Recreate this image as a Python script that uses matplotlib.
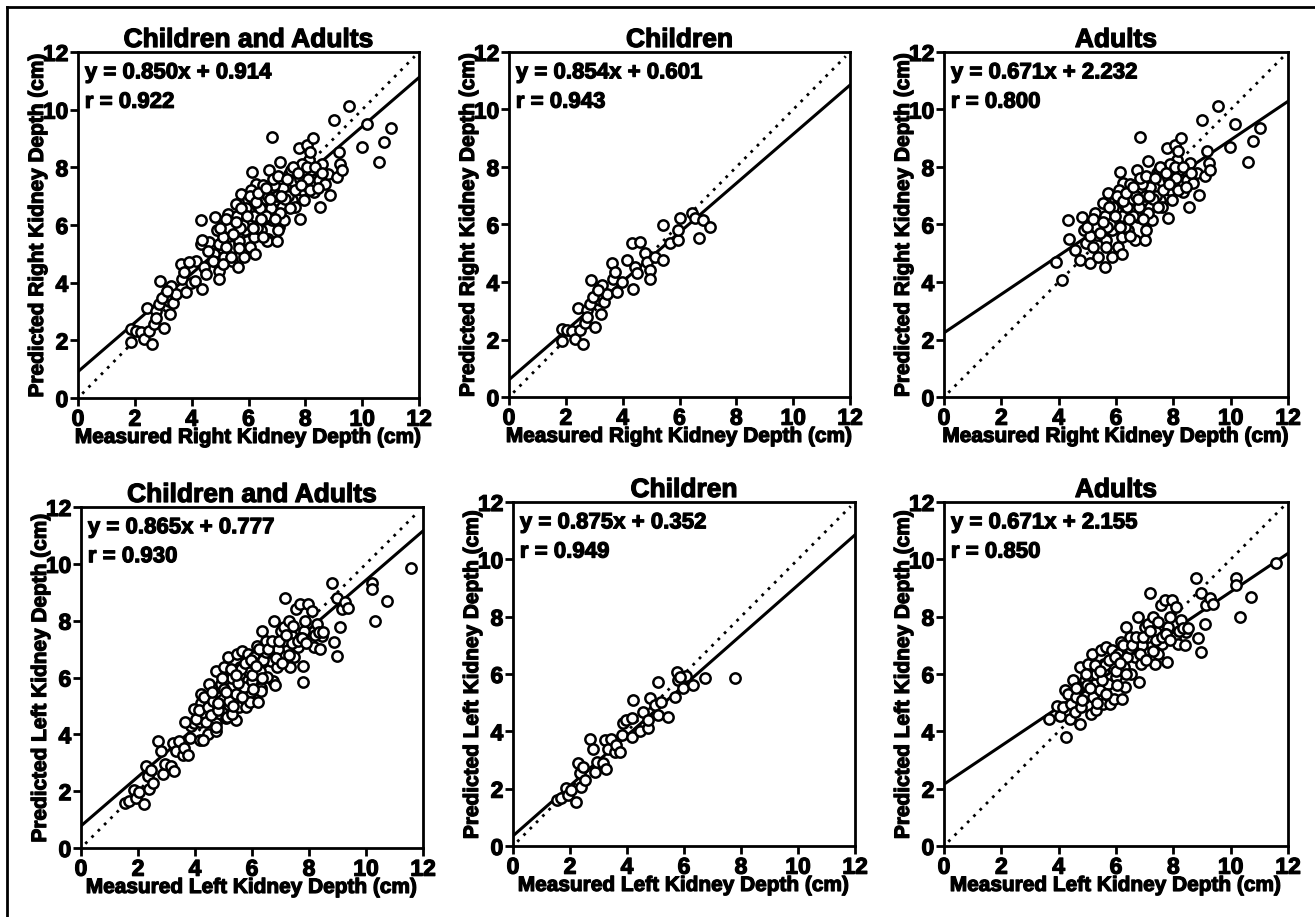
import matplotlib
matplotlib.use('Agg')
import matplotlib.pyplot as plt
import matplotlib.patheffects as pe
from matplotlib.lines import Line2D
import numpy as np

plt.rcParams['font.family'] = ['Liberation Sans', 'DejaVu Sans']
plt.rcParams['font.weight'] = 'bold'

# measured / predicted kidney depth (cm)
child_right_x = [1.85, 1.85, 2.03, 2.2, 2.32, 2.5, 2.42, 2.6, 2.67, 2.73, 2.85, 2.9, 3.03, 3.08, 3.2,
                 3.24, 3.26, 3.34, 3.44, 3.61, 3.67, 3.73, 3.79, 3.96, 4.14, 4.32, 4.38, 4.43, 4.61, 4.49,
                 4.79, 4.85, 4.96, 4.96, 5.14, 5.43, 5.43, 5.67, 5.93, 5.96, 6.02, 6.43, 6.55, 6.7, 6.84,
                 7.07, 2.73, 2.97, 3.14]
child_right_y = [2.38, 1.95, 2.32, 2.3, 2.03, 2.32, 3.11, 1.86, 2.58, 3.02, 3.25, 4.06, 2.44, 3.6, 3.37,
                 2.9, 3.89, 3.31, 3.6, 4.65, 4.12, 4.36, 3.66, 4.0, 4.76, 5.34, 3.77, 4.53, 5.4, 4.3,
                 5.0, 4.7, 4.41, 4.12, 4.88, 5.98, 4.76, 5.34, 5.46, 5.81, 6.21, 6.39, 6.21, 5.52, 6.16,
                 5.92, 2.79, 3.48, 3.72]

adult_right_x = [3.89, 4.12, 4.33, 4.37, 4.57, 4.74, 4.82, 4.89, 4.97, 5.09, 5.15, 5.2, 5.27, 5.32, 5.38,
                 5.5, 5.56, 5.62, 5.66, 5.73, 5.79, 5.85, 5.87, 5.97, 6.0, 6.06, 6.14, 6.18, 6.2, 6.26,
                 6.22, 6.31, 6.37, 6.43, 6.55, 6.66, 6.72, 6.78, 6.84, 6.87, 6.96, 7.02, 7.04, 7.11, 7.13,
                 7.19, 7.25, 7.34, 7.42, 7.48, 7.54, 7.62, 7.69, 7.77, 7.8, 7.83, 7.89, 7.95, 8.0, 8.06,
                 8.12, 8.18, 8.24, 8.27, 8.32, 8.41, 8.47, 8.53, 8.59, 8.7, 8.81, 8.88, 9.0, 9.11, 9.17,
                 9.23, 9.28, 9.55, 9.98, 10.16, 10.6, 10.77, 11.03,
                 5.4, 5.6, 5.8, 6.0, 6.2, 6.4, 6.6, 6.8, 7.0, 7.2, 7.4, 7.6, 7.8, 8.0, 8.2,
                 6.1, 6.5, 5.9, 7.1, 7.5, 7.9, 6.3, 5.7, 5.1, 5.3, 6.7, 7.3, 8.1, 6.9, 6.6,
                 5.0, 5.2, 5.45, 5.55, 5.75, 5.95, 6.05, 6.25, 6.35, 6.45, 6.6, 6.75, 6.85, 6.95, 7.05,
                 7.15, 7.35, 7.45, 7.55, 7.65, 7.75, 7.85, 8.05, 8.15, 8.35, 8.45, 8.6, 5.65, 6.15, 6.5]
adult_right_y = [4.7, 4.07, 6.16, 5.48, 5.11, 4.76, 6.27, 5.81, 5.34, 4.65, 6.1, 5.23, 6.39, 5.63, 4.88,
                 5.92, 6.74, 4.53, 5.46, 7.08, 6.39, 4.88, 5.81, 6.85, 6.16, 5.23, 7.84, 6.74, 5.57, 7.43,
                 4.99, 6.21, 6.97, 5.81, 6.56, 5.46, 7.9, 6.27, 9.06, 7.2, 6.85, 5.46, 5.81, 8.2, 7.55,
                 6.62, 6.16, 7.08, 7.78, 7.32, 6.85, 6.62, 7.67, 8.66, 6.21, 8.01, 7.2, 6.85, 7.78, 8.78,
                 8.25, 8.54, 7.49, 9.0, 7.14, 7.9, 7.55, 6.62, 8.13, 7.43, 7.78, 7.03, 9.64, 7.67, 8.54,
                 8.13, 7.9, 10.13, 8.71, 9.5, 8.19, 8.89, 9.35,
                 6.0, 6.3, 6.0, 6.5, 6.3, 6.6, 6.9, 6.6, 7.0, 7.3, 7.0, 7.5, 7.6, 7.4, 7.9,
                 7.2, 7.4, 6.6, 6.4, 7.9, 8.1, 5.9, 5.9, 5.6, 5.9, 7.0, 6.9, 7.6, 7.4, 6.3,
                 5.9, 6.2, 5.7, 6.1, 6.6, 6.3, 7.0, 6.8, 7.1, 6.2, 7.3, 6.9, 7.6, 6.2, 7.7,
                 7.0, 7.6, 6.6, 8.0, 7.2, 7.8, 7.4, 8.0, 7.2, 8.0, 7.3, 7.8, 5.2, 5.9, 5.6]

child_left_x = [1.55, 1.7, 1.85, 1.93, 2.05, 2.22, 2.28, 2.34, 2.4, 2.52, 2.46, 2.69, 2.81, 2.87, 2.93,
                3.16, 3.22, 3.28, 3.34, 3.45, 3.57, 3.63, 3.75, 3.81, 3.86, 3.98, 4.16, 4.22, 4.19, 4.45,
                4.57, 4.74, 4.74, 4.8, 4.97, 5.09, 5.09, 5.21, 5.44, 5.68, 5.74, 5.8, 5.97, 6.06, 6.32,
                6.73, 7.79, 5.85]
child_left_y = [1.6, 1.66, 2.04, 1.77, 1.97, 1.54, 2.88, 2.53, 2.06, 2.3, 2.76, 3.75, 3.4, 2.59, 2.94,
                2.88, 3.69, 2.7, 3.4, 3.75, 3.29, 3.52, 3.29, 3.87, 4.28, 4.39, 3.81, 5.09, 4.45, 4.0,
                4.69, 4.1, 4.39, 5.15, 4.92, 5.73, 4.57, 5.03, 4.51, 5.21, 6.08, 5.79, 5.5, 5.93, 5.62,
                5.87, 5.85, 5.9]

adult_left_x = [3.65, 3.95, 4.03, 4.15, 4.21, 4.27, 4.33, 4.38, 4.44, 4.5, 4.56, 4.62, 4.73, 4.73, 4.79,
                4.85, 4.91, 4.97, 5.02, 5.08, 5.14, 5.16, 5.2, 5.26, 5.31, 5.37, 5.43, 5.49, 5.55, 5.58,
                5.66, 5.72, 5.78, 5.84, 5.86, 5.93, 6.01, 6.07, 6.19, 6.21, 6.28, 6.3, 6.36, 6.42, 6.48,
                6.53, 6.65, 6.77, 6.79, 6.83, 6.88, 7.0, 7.06, 7.12, 7.17, 7.23, 7.29, 7.35, 7.4, 7.47,
                7.56, 7.6, 7.7, 7.79, 7.81, 7.87, 7.97, 8.05, 8.1, 8.16, 8.28, 8.4, 8.45, 8.8, 8.86,
                8.98, 8.98, 9.09, 9.15, 9.27, 9.38, 10.2, 10.2, 10.31, 10.72, 11.59,
                5.0, 5.3, 5.5, 5.9, 6.1, 6.4, 6.6, 6.9, 7.1, 7.4, 7.7, 5.6, 6.0, 6.5,
                4.6, 4.8, 5.1, 5.25, 5.45, 5.65, 5.75, 5.95, 6.05, 6.15, 6.25, 6.35, 6.55, 6.7, 6.85,
                6.95, 7.05, 7.2, 7.3, 7.45, 7.6, 7.75, 7.9, 8.2, 8.35, 8.5, 5.35, 4.95]
adult_left_y = [4.44, 4.9, 4.55, 4.84, 5.43, 3.79, 5.31, 4.44, 4.96, 5.78, 4.67, 5.19, 4.26, 6.24, 4.84,
                5.66, 5.78, 5.25, 6.36, 5.95, 4.61, 6.71, 5.19, 5.66, 4.73, 6.13, 5.43, 6.83, 4.96, 6.36,
                6.94, 5.66, 4.96, 6.3, 6.83, 5.14, 5.89, 6.71, 7.12, 5.14, 6.24, 5.54, 7.65, 6.83, 7.29,
                6.01, 6.59, 8.0, 5.72, 7.18, 6.36, 7.65, 6.83, 7.76, 8.81, 7.06, 8.0, 6.36, 7.47, 6.71,
                8.4, 7.06, 8.58, 6.42, 7.65, 8.0, 8.58, 7.3, 8.34, 7.06, 7.88, 7.0, 7.47, 9.34, 7.24,
                6.77, 8.81, 7.76, 8.4, 8.64, 8.44, 9.34, 9.1, 8.0, 8.7, 9.86,
                5.6, 6.0, 5.8, 6.2, 6.5, 6.6, 6.9, 7.0, 7.3, 7.2, 7.4, 6.3, 6.1, 6.9,
                5.5, 5.1, 5.5, 6.3, 6.1, 5.3, 6.5, 6.6, 5.6, 6.4, 7.0, 6.0, 7.0, 7.3, 6.7,
                7.3, 6.5, 7.5, 6.8, 7.8, 7.3, 7.4, 7.2, 7.5, 7.6, 7.6, 5.0, 6.0]

titles = ['Children and Adults', 'Children', 'Adults']
fits = [(0.850, 0.914, 0.922), (0.854, 0.601, 0.943), (0.671, 2.232, 0.800),
        (0.865, 0.777, 0.930), (0.875, 0.352, 0.949), (0.671, 2.155, 0.850)]
ticks = [0, 2, 4, 6, 8, 10, 12]

W, H = 1315, 917
fig = plt.figure(figsize=(13.15, 9.17), dpi=100)

# axes boxes in pixels: left, top, right, bottom
boxes = [(78, 52, 419, 398), (509, 52, 850, 397), (944, 52, 1288, 397),
         (81, 507, 423, 848), (513, 502, 855, 846), (944, 502, 1288, 846)]

datasets = [
    (child_right_x + adult_right_x, child_right_y + adult_right_y),
    (child_right_x, child_right_y),
    (adult_right_x, adult_right_y),
    (child_left_x + adult_left_x, child_left_y + adult_left_y),
    (child_left_x, child_left_y),
    (adult_left_x, adult_left_y),
]

# thicken the text a little so it looks like the heavy original face
heavy = [pe.withStroke(linewidth=0.9, foreground='black')]

for i, (l, t, r, b) in enumerate(boxes):
    ax = fig.add_axes([l / W, 1 - b / H, (r - l) / W, (b - t) / H])
    xs, ys = datasets[i]
    slope, icpt, rr = fits[i]
    side = 'Right' if i < 3 else 'Left'

    ax.plot([0.15, 11.85], [0.15, 11.85], color='black', lw=2, ls=(0, (1, 2.2)), zorder=2)
    line_x = np.array([0, 12])
    ax.plot(line_x, slope * line_x + icpt, color='black', lw=2.2, zorder=2)
    ax.scatter(xs, ys, s=55, facecolors='white', edgecolors='black', linewidths=1.8, zorder=3)

    ax.set_xlim(0, 12)
    ax.set_ylim(0, 12)
    ax.set_xticks(ticks)
    ax.set_yticks(ticks)
    ax.tick_params(direction='out', length=6, width=2, labelsize=16.5, pad=1)
    for lab in ax.get_xticklabels() + ax.get_yticklabels():
        lab.set_path_effects(heavy)
    for sp in ax.spines.values():
        sp.set_linewidth(2)

    ax.set_title(titles[i % 3], fontsize=19, fontweight='bold', pad=1, path_effects=heavy)
    ax.set_xlabel('Measured %s Kidney Depth (cm)' % side, fontsize=15, fontweight='bold',
                  labelpad=-2, path_effects=heavy)
    ax.set_ylabel('Predicted %s Kidney Depth (cm)' % side, fontsize=15, fontweight='bold',
                  labelpad=-3, path_effects=heavy)

    ax.text(0.02, 0.970, 'y = %.3fx + %.3f' % (slope, icpt), transform=ax.transAxes,
            fontsize=16, fontweight='bold', va='top', ha='left', path_effects=heavy)
    ax.text(0.02, 0.885, 'r = %.3f' % rr, transform=ax.transAxes,
            fontsize=16, fontweight='bold', va='top', ha='left', path_effects=heavy)

# frame lines on the top and left of the figure
fig.add_artist(Line2D([7 / W, 1], [1 - 7 / H, 1 - 7 / H], color='black', lw=2, transform=fig.transFigure))
fig.add_artist(Line2D([7 / W, 7 / W], [0, 1 - 7 / H], color='black', lw=2, transform=fig.transFigure))

fig.savefig('out.png', dpi=100)
